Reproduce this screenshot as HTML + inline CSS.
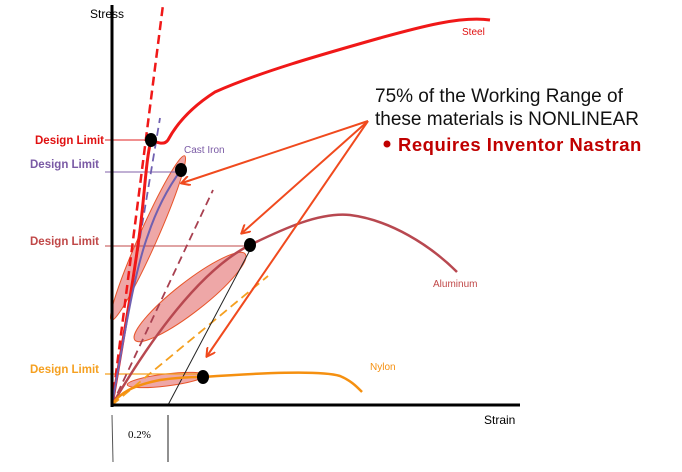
<!DOCTYPE html>
<html><head><meta charset="utf-8"><style>
html,body{margin:0;padding:0;background:#fff;}
svg{display:block;}
</style></head><body>
<svg width="682" height="472" viewBox="0 0 682 472" xmlns="http://www.w3.org/2000/svg" font-family="Liberation Sans, sans-serif">
<defs>
<marker id="ah" markerWidth="10" markerHeight="10" refX="8" refY="5" orient="auto" markerUnits="userSpaceOnUse">
<path d="M0,0 L9,5 L0,10" fill="none" stroke="#f04a1e" stroke-width="2"/>
</marker>
</defs>
<ellipse cx="148" cy="238" rx="90" ry="9" transform="rotate(-66 148 238)" fill="#e88a8a" fill-opacity="0.75" stroke="#e8552a" stroke-width="1"/>
<ellipse cx="190" cy="297" rx="70" ry="15" transform="rotate(-38 190 297)" fill="#e88a8a" fill-opacity="0.75" stroke="#e8552a" stroke-width="1"/>
<ellipse cx="166" cy="380" rx="39" ry="6" transform="rotate(-7 166 380)" fill="#e88a8a" fill-opacity="0.75" stroke="#e8552a" stroke-width="1"/>
<line x1="105" y1="140" x2="151" y2="140" stroke="#e02020" stroke-width="1"/>
<line x1="105" y1="172" x2="181" y2="172" stroke="#8060a8" stroke-width="1"/>
<line x1="105" y1="246" x2="250" y2="246" stroke="#c04848" stroke-width="1"/>
<line x1="105" y1="374" x2="203" y2="374" stroke="#f5a020" stroke-width="1.2"/>
<line x1="112" y1="405" x2="163" y2="5" stroke="#f01818" stroke-width="2.5" stroke-dasharray="9,5"/>
<line x1="112" y1="405" x2="160" y2="118" stroke="#7060b0" stroke-width="1.8" stroke-dasharray="8,5"/>
<line x1="112" y1="405" x2="213" y2="190" stroke="#a84050" stroke-width="1.8" stroke-dasharray="8,5"/>
<line x1="112" y1="405" x2="268" y2="276" stroke="#f5a020" stroke-width="1.8" stroke-dasharray="9,5"/>
<line x1="168" y1="405" x2="250" y2="250" stroke="#222" stroke-width="1"/>
<path d="M112,405 C125,330 135,270 140,230 C145,190 146,160 151,140 C156,142 164,146 168,140 C176,125 190,108 215,92 C260,72 320,55 380,38 C420,27 460,16 490,20" fill="none" stroke="#f01818" stroke-width="3"/>
<path d="M112,405 C125,330 135,270 148,235 C158,205 170,185 181,170" fill="none" stroke="#7060b0" stroke-width="2"/>
<path d="M112,405 C150,340 200,270 250,245 C285,228 320,212 350,215 C390,220 430,245 457,272" fill="none" stroke="#b84850" stroke-width="2.5"/>
<path d="M112,405 C120,392 135,385 160,380 C180,377 195,377 203,377 C260,373 320,370 340,376 C352,381 358,388 362,392" fill="none" stroke="#f59010" stroke-width="2.5"/>
<ellipse cx="151" cy="140" rx="6" ry="7" fill="#000"/>
<ellipse cx="181" cy="170" rx="6" ry="7" fill="#000"/>
<ellipse cx="250" cy="245" rx="6" ry="7" fill="#000"/>
<ellipse cx="203" cy="377" rx="6" ry="7" fill="#000"/>
<line x1="368" y1="121" x2="182" y2="183" stroke="#f04a1e" stroke-width="2" marker-end="url(#ah)"/>
<line x1="368" y1="121" x2="242" y2="233" stroke="#f04a1e" stroke-width="2" marker-end="url(#ah)"/>
<line x1="368" y1="121" x2="207" y2="356" stroke="#f04a1e" stroke-width="2" marker-end="url(#ah)"/>
<line x1="112" y1="5" x2="112" y2="407" stroke="#000" stroke-width="3"/>
<line x1="111" y1="405" x2="520" y2="405" stroke="#000" stroke-width="3"/>
<line x1="112" y1="415" x2="113" y2="462" stroke="#555" stroke-width="1"/>
<line x1="168" y1="415" x2="168" y2="462" stroke="#222" stroke-width="1"/>
<text x="128" y="438" font-family="Liberation Serif, serif" font-size="11" fill="#000">0.2%</text>
<text x="90" y="18" font-size="12" fill="#000">Stress</text>
<text x="484" y="424" font-size="12" fill="#000">Strain</text>
<text x="35" y="144" font-size="11.5" font-weight="bold" fill="#e01010">Design Limit</text>
<text x="30" y="168" font-size="11.5" font-weight="bold" fill="#7a5aa5">Design Limit</text>
<text x="30" y="245" font-size="11.5" font-weight="bold" fill="#c04848">Design Limit</text>
<text x="30" y="373" font-size="11.5" font-weight="bold" fill="#f5a020">Design Limit</text>
<text x="462" y="35" font-size="10" fill="#e01010">Steel</text>
<text x="184" y="153" font-size="10" fill="#7a5aa5">Cast Iron</text>
<text x="433" y="287" font-size="10" fill="#c04848">Aluminum</text>
<text x="370" y="370" font-size="10" fill="#f59010">Nylon</text>
<text x="375" y="102" font-size="19" fill="#111">75% of the Working Range of</text>
<text x="375" y="125" font-size="19" fill="#111">these materials is NONLINEAR</text>
<circle cx="387" cy="144" r="3.5" fill="#c00000"/>
<text x="398" y="151" font-size="18.5" font-weight="bold" fill="#c00000" letter-spacing="0.5">Requires Inventor Nastran</text>
</svg>
</body></html>
